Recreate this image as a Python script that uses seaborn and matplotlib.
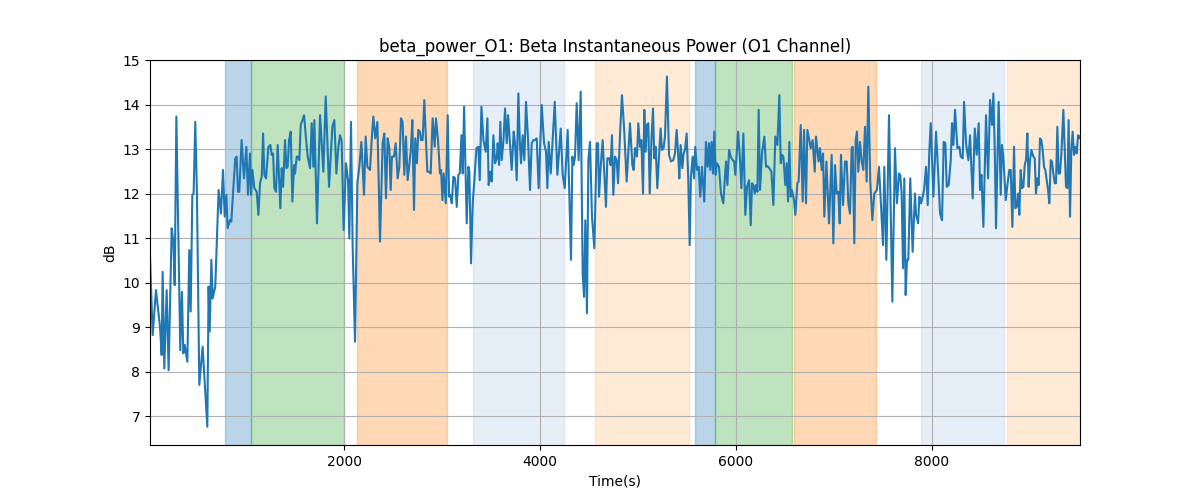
import matplotlib
matplotlib.use("Agg")
import matplotlib.pyplot as plt
import seaborn as sns
import pandas as pd

# ---- data ----
times = [20, 47, 81, 122, 139, 149, 166, 190, 210, 241, 258, 272, 289, 329, 346, 360, 374, 401, 421, 435,
         452, 465, 482, 499, 523, 557, 605, 618, 629, 646, 659, 686, 720, 744, 765, 782, 799, 812, 836, 850,
         867, 890, 904, 918, 931, 955, 979, 1003, 1020, 1040,
         1051, 1065, 1085, 1109, 1126, 1143, 1160, 1174, 1187, 1204, 1228, 1248, 1262, 1276, 1289, 1306, 1323,
         1350, 1364, 1378, 1398, 1412, 1425, 1439, 1456, 1473, 1490, 1500, 1517, 1527, 1544, 1558, 1575, 1592,
         1609, 1629, 1653, 1670, 1687, 1697, 1724, 1755, 1789, 1813, 1847, 1881, 1901, 1922, 1942, 1959, 1976, 1996,
         2020, 2041, 2054, 2071, 2088, 2112, 2136, 2156, 2177, 2204, 2221, 2238, 2265, 2285, 2299, 2319, 2340,
         2367, 2394, 2411, 2428, 2445, 2462, 2476, 2489, 2510, 2527, 2547, 2564, 2581, 2598, 2615, 2632, 2649,
         2666, 2683, 2697, 2714, 2727, 2744, 2758, 2775, 2785, 2802, 2819, 2836, 2850, 2870, 2884, 2904, 2925,
         2938, 2959, 2979,
         2990, 3004, 3017, 3038, 3058, 3072, 3085, 3099, 3116, 3133, 3150, 3167, 3181, 3198, 3211, 3225, 3252,
         3269, 3279, 3296, 3313, 3330, 3351, 3371, 3385, 3402, 3422, 3446, 3463, 3476, 3493, 3507, 3524, 3541,
         3558, 3568, 3582, 3595, 3609, 3626, 3643, 3660, 3674, 3691, 3711, 3731, 3745, 3762, 3779, 3793, 3806,
         3823, 3840, 3857, 3878, 3898, 3915, 3932, 3949,
         3966, 3986, 4017, 4041, 4061, 4075, 4088, 4109, 4126, 4150, 4177, 4211, 4231, 4252, 4282, 4316, 4330,
         4343, 4357, 4374, 4394, 4415, 4435, 4449, 4462, 4479, 4493, 4510, 4530, 4554, 4578, 4592, 4602, 4619,
         4639, 4673, 4687, 4707, 4721, 4734, 4748, 4765, 4782, 4796, 4816, 4836, 4857, 4884, 4918,
         4942, 4955, 4969, 4989, 5003, 5020, 5034, 5051, 5064, 5078, 5091, 5105, 5119, 5139, 5153, 5166, 5180,
         5197, 5214, 5231, 5244, 5261, 5275, 5295, 5316, 5336, 5360, 5377, 5394, 5411, 5421, 5435, 5452, 5465,
         5479, 5496, 5513, 5527, 5540, 5557, 5571, 5584, 5601, 5618, 5635, 5652, 5676, 5693, 5710, 5724, 5737,
         5751, 5765, 5778, 5792, 5805, 5826, 5846, 5870, 5887,
         5898, 5912, 5929, 5946, 5966, 5980, 5993, 6021, 6041, 6055, 6075, 6095, 6112, 6133, 6150, 6163, 6177,
         6191, 6204, 6218, 6231, 6245, 6265, 6289, 6306, 6320, 6340, 6361, 6381, 6401, 6422, 6442, 6456, 6469,
         6483, 6503, 6517, 6531, 6544, 6558, 6571, 6592, 6605, 6626, 6639, 6660, 6680, 6694, 6714, 6728, 6748,
         6762, 6782, 6803, 6816, 6843, 6857,
         6874, 6888, 6901, 6922, 6949, 6976, 6993, 7010, 7027, 7044, 7058, 7071, 7092, 7112, 7129, 7146, 7163,
         7180, 7190, 7207, 7221, 7234, 7248, 7265, 7282, 7299, 7316, 7333, 7350, 7370, 7391, 7411, 7438, 7459,
         7479, 7500, 7513, 7534, 7561, 7595, 7622, 7642, 7663, 7676, 7690, 7704, 7717, 7731, 7744, 7758, 7778,
         7802, 7826,
         7837, 7858, 7871, 7888, 7905, 7919, 7939, 7956, 7973, 7987, 8014, 8041, 8062, 8082, 8102, 8119, 8136,
         8150, 8170, 8191, 8204, 8218, 8235, 8259, 8279, 8293, 8313, 8327, 8347, 8371, 8388, 8415, 8436, 8456,
         8476, 8490, 8504, 8524, 8551, 8572, 8592, 8612, 8626, 8640, 8653, 8680, 8701, 8714, 8728, 8752, 8769, 8789,
         8803, 8820, 8837, 8850, 8864, 8878, 8891, 8905, 8918, 8932, 8946, 8959, 8973, 8986, 9000, 9014, 9034,
         9048, 9061, 9075, 9088, 9102, 9116, 9129, 9143, 9156, 9170, 9184, 9197, 9211, 9224, 9238, 9252, 9265,
         9279, 9292, 9306, 9320, 9340, 9354, 9367, 9381, 9394, 9408, 9422, 9435, 9449, 9462, 9476, 9490, 9503, 9510]

beta_db = [10.58, 8.82, 9.83, 9.01, 8.37, 10.24, 8.07, 9.83, 8.03, 11.22, 10.92, 9.94, 13.73, 8.48, 9.79, 8.41,
           8.60, 8.22, 10.73, 9.35, 11.97, 12.00, 13.61, 12.00, 7.70, 8.56, 6.76, 9.91, 8.90, 10.51, 9.64, 9.91,
           12.08, 11.55, 12.53, 11.48, 11.97, 11.22, 11.40, 11.37, 12.00, 12.79, 12.83, 12.04, 12.04, 13.20, 12.34,
           13.05, 11.97, 12.90,
           11.97, 12.53, 12.12, 12.04, 11.52, 12.23, 12.38, 13.35, 12.42, 12.34, 13.05, 13.09, 12.87, 12.90, 12.12,
           12.04, 13.09, 11.67, 12.57, 12.15, 13.20, 12.57, 12.60, 13.20, 13.39, 11.82, 12.64, 12.45, 12.83, 12.83,
           12.75, 13.54, 13.65, 13.76, 13.31, 12.83, 12.57, 13.58, 12.60, 13.65, 11.33, 13.76, 12.49, 14.18, 12.15,
           13.50, 13.65, 12.45, 13.05, 13.31, 13.17, 11.18,
           12.68, 12.30, 10.99, 13.61, 10.81, 8.67, 12.23, 12.60, 13.16, 11.97, 13.28, 12.60, 12.53, 13.31, 13.73,
           13.24, 13.61, 10.92, 13.13, 13.35, 11.89, 13.24, 13.02, 12.08, 12.83, 12.83, 13.13, 12.34, 12.60, 13.69,
           13.61, 12.42, 13.28, 12.30, 12.64, 13.02, 13.65, 11.63, 13.24, 12.68, 13.43, 13.39, 13.20, 13.20, 14.10,
           13.24, 12.49, 12.49, 12.45, 13.69, 13.05, 13.69, 13.20, 12.45,
           12.53, 11.85, 12.45, 11.78, 13.76, 11.93, 11.97, 11.78, 12.38, 12.34, 11.70, 12.42, 12.45, 13.31, 12.45,
           13.95, 11.33, 12.60, 12.49, 10.43, 11.78, 12.30, 13.02, 13.05, 12.30, 13.95, 13.20, 12.94, 13.69, 12.19,
           12.49, 12.27, 13.31, 12.68, 12.79, 13.13, 12.64, 13.61, 12.75, 13.16, 13.91, 13.13, 13.76, 13.20, 12.53,
           13.39, 13.13, 12.30, 14.25, 13.20, 12.68, 13.31, 12.75, 14.06, 13.20, 12.08, 13.13, 13.20, 13.20,
           13.24, 12.12, 13.99, 13.13, 12.94, 12.12, 13.16, 12.45, 13.09, 14.06, 12.42, 13.46, 12.42, 12.12, 13.43,
           10.51, 12.83, 12.64, 12.83, 14.03, 12.75, 14.29, 10.21, 9.68, 11.40, 9.31, 12.75, 13.16, 11.48, 10.77,
           13.13, 13.13, 11.93, 12.60, 13.20, 11.70, 12.79, 12.79, 12.64, 13.31, 11.97, 12.83, 12.75, 12.23, 13.31,
           14.21, 13.50, 12.27, 13.58,
           12.64, 12.53, 13.02, 12.83, 13.58, 13.05, 13.20, 12.00, 13.88, 12.94, 13.54, 13.58, 12.00, 13.31, 13.91,
           12.79, 13.05, 12.12, 12.83, 13.46, 12.98, 13.02, 13.28, 14.63, 12.87, 12.72, 12.75, 12.90, 13.43, 12.83,
           12.34, 13.09, 12.57, 12.90, 12.98, 13.35, 12.30, 10.84, 12.38, 12.83, 12.34, 13.05, 12.53, 12.60, 11.93,
           12.60, 11.82, 13.16, 12.60, 13.13, 12.53, 13.16, 12.45, 13.39, 12.42, 12.68, 12.60, 12.00, 11.78, 12.38,
           12.72, 12.19, 12.98, 12.83, 12.75, 12.72, 12.42, 13.39, 12.75, 12.12, 13.35, 11.52, 12.15, 12.30, 11.29,
           12.23, 12.19, 12.00, 12.19, 12.04, 13.88, 12.08, 12.90, 13.28, 12.60, 12.62, 12.57, 12.49, 11.74, 13.28,
           13.09, 14.21, 12.68, 12.87, 12.83, 12.19, 12.68, 11.82, 13.16, 11.93, 12.08, 11.85, 11.52, 12.23, 12.27,
           13.54, 11.82, 13.43, 11.78, 13.43, 13.20, 13.02, 13.20, 12.49, 13.28, 12.72, 13.02,
           12.53, 12.90, 11.48, 12.72, 11.33, 12.87, 10.88, 12.64, 12.00, 12.04, 11.33, 12.87, 11.74, 12.72, 12.72,
           11.78, 11.55, 13.02, 13.05, 10.88, 13.20, 13.39, 12.49, 13.16, 12.72, 12.53, 13.50, 12.27, 14.40, 12.27,
           11.40, 12.00, 12.08, 12.60, 11.74, 10.84, 12.60, 10.51, 13.76, 9.57, 13.02, 11.78, 12.45, 12.42, 12.00,
           10.32, 12.34, 9.72, 10.51, 10.51, 12.34, 10.69, 12.00,
           11.52, 11.33, 11.93, 11.78, 11.93, 12.08, 12.60, 11.74, 12.98, 13.58, 11.93, 13.39, 12.49, 11.55, 11.40,
           13.16, 13.13, 12.15, 12.19, 12.75, 13.58, 13.09, 13.88, 13.02, 13.05, 12.83, 12.79, 14.06, 13.13, 12.75,
           13.31, 11.89, 13.46, 12.87, 13.58, 12.08, 12.42, 11.25, 13.76, 12.34, 14.10, 13.54, 14.25, 12.98, 11.22,
           14.06, 11.97, 13.09, 12.83, 11.85, 12.19, 12.53,
           12.53, 11.25, 13.05, 11.67, 11.70, 12.00, 11.52, 12.53, 12.12, 12.15, 12.64, 12.75, 13.35, 12.15, 12.75,
           12.98, 12.83, 12.79, 12.00, 12.34, 12.19, 13.24, 13.20, 12.98, 12.60, 12.53, 12.30, 12.08, 11.78, 12.75,
           12.72, 12.45, 12.23, 12.23, 13.50, 12.45, 12.45, 12.90, 13.88, 12.98, 12.15, 12.12, 13.65, 11.48, 13.02,
           13.39, 12.87, 13.05, 12.90, 13.31, 13.24, 13.28]

# shaded segments (start, end, kind)
seg_start = [786, 1051, 2133, 3316, 4561, 5582, 5786, 6592, 7888, 8765]
seg_end = [1051, 2000, 3051, 4245, 5520, 5786, 6571, 7429, 8735, 9510]
seg_kind = ["blue", "green", "orange", "lightblue", "lightorange",
            "blue", "green", "orange", "lightblue", "lightorange"]

# ---- styles ----
kind_style = {
    "blue": ("#1f77b4", 0.3),
    "green": ("#2ca02c", 0.3),
    "orange": ("#ff7f0e", 0.3),
    "lightblue": ("#aec7e8", 0.3),
    "lightorange": ("#ffbb78", 0.3),
}

df = pd.DataFrame({"Time(s)": times, "dB": beta_db})

fig, ax = plt.subplots(figsize=(12, 5), dpi=100)
for s, e, k in zip(seg_start, seg_end, seg_kind):
    c, a = kind_style[k]
    ax.axvspan(s, e, color=c, alpha=a)

sns.lineplot(data=df, x="Time(s)", y="dB", ax=ax, color="#1f77b4", linewidth=1.5)

ax.set_xlim(times[0], times[-1])
ax.set_ylim(6.35, 15)
ax.grid(True)
ax.set_title("beta_power_O1: Beta Instantaneous Power (O1 Channel)")
ax.set_xlabel("Time(s)")
ax.set_ylabel("dB")

fig.savefig("out.png", dpi=100)
